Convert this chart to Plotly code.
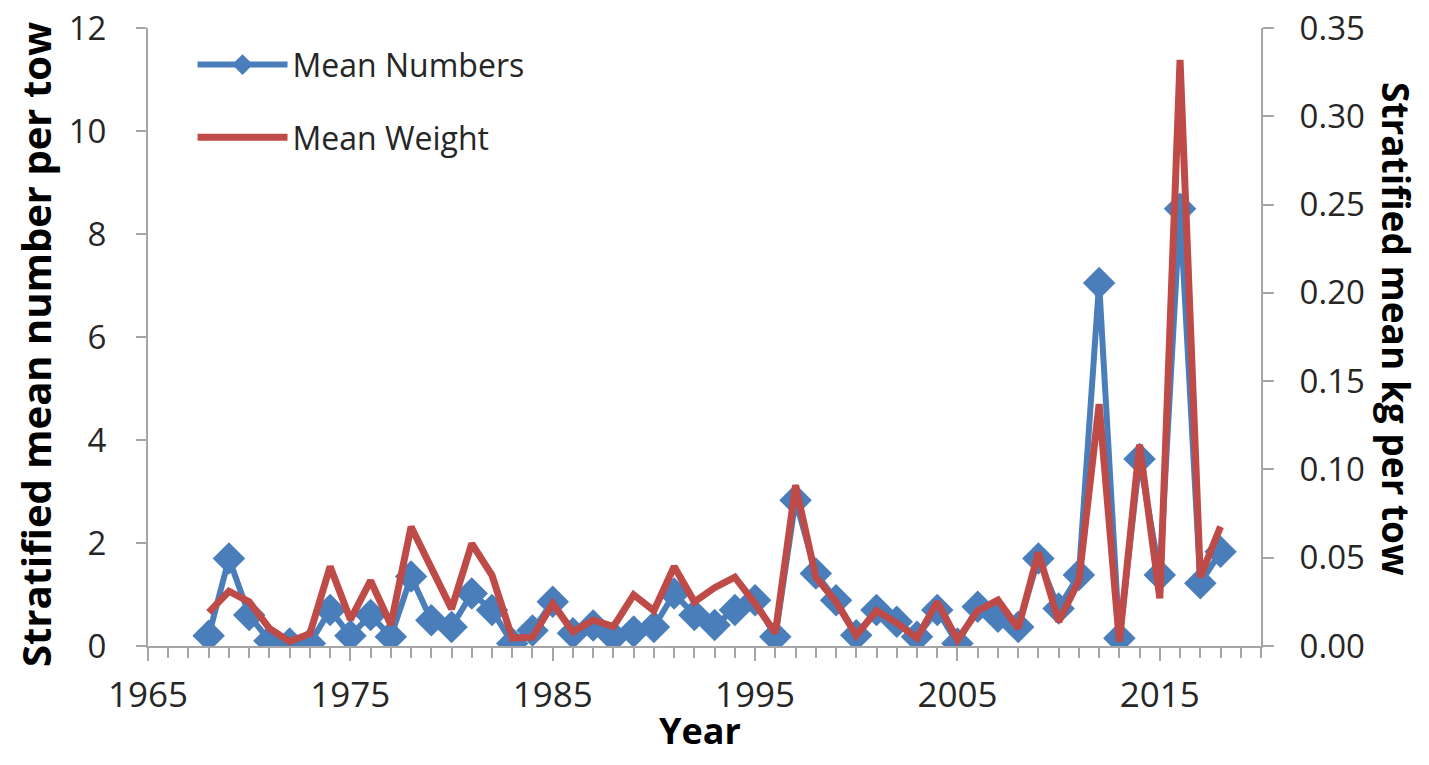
import plotly.graph_objects as go

years = list(range(1968, 2019))
mean_numbers = [0.2, 1.7, 0.6, 0.1, 0.05, 0.05, 0.7, 0.2, 0.6, 0.18,
                1.35, 0.5, 0.37, 1.02, 0.7, 0.05, 0.3, 0.86, 0.25, 0.4,
                0.18, 0.28, 0.37, 1.02, 0.6, 0.41, 0.7, 0.89, 0.18, 2.83,
                1.41, 0.89, 0.21, 0.7, 0.47, 0.18, 0.7, 0.05, 0.76, 0.57,
                0.37, 1.70, 0.73, 1.38, 7.05, 0.15, 3.63, 1.38, 8.49, 1.22,
                1.83]
mean_weight = [0.019, 0.031, 0.025, 0.010, 0.0025, 0.007, 0.045, 0.015, 0.037, 0.012,
               0.0675, 0.044, 0.021, 0.058, 0.040, 0.0045, 0.005, 0.024, 0.008, 0.0147,
               0.011, 0.029, 0.020, 0.045, 0.025, 0.033, 0.039, 0.024, 0.0074, 0.091,
               0.039, 0.025, 0.006, 0.020, 0.013, 0.0045, 0.025, 0.0034, 0.020, 0.026,
               0.010, 0.053, 0.0138, 0.037, 0.137, 0.0025, 0.114, 0.027, 0.332, 0.039,
               0.0676]

left_ticks = [0, 2, 4, 6, 8, 10, 12]
right_ticks = [0.00, 0.05, 0.10, 0.15, 0.20, 0.25, 0.30, 0.35]
x_ticks = [1965, 1975, 1985, 1995, 2005, 2015]

BLUE = "#4A7EBB"
RED = "#BE4B48"
AXIS = "#A6A6A6"
FONT = "Open Sans"
TXT = "#262626"

fig = go.Figure()
fig.add_trace(go.Scatter(
    x=years, y=mean_numbers, name="Mean Numbers", mode="lines+markers",
    line=dict(color=BLUE, width=6),
    marker=dict(symbol="diamond", size=25, color=BLUE),
    legendgroup="a", yaxis="y"))
fig.add_trace(go.Scatter(
    x=years, y=mean_weight, name="Mean Weight", mode="lines",
    line=dict(color=RED, width=7),
    legendgroup="b", yaxis="y2"))

# page body has an 8px margin; the figure is sized to fill the window exactly
fig.update_layout(
    width=1413, height=749,
    margin=dict(l=140, r=160, t=20, b=111, autoexpand=False),
    paper_bgcolor="white", plot_bgcolor="white",
    font=dict(family=FONT, color=TXT),
    showlegend=True,
    legend=dict(x=0.04, y=0.985, xanchor="left", yanchor="top",
                font=dict(size=32, family=FONT, color=TXT),
                tracegroupgap=28, bgcolor="rgba(0,0,0,0)", itemwidth=90),
    xaxis=dict(range=[1965, 2020], tickvals=x_ticks, ticktext=[str(v) for v in x_ticks],
               automargin=False, ticklabeloverflow="allow",
               showline=True, linecolor=AXIS, linewidth=2, showgrid=False, zeroline=False,
               ticks="outside", ticklen=13, tickcolor=AXIS, tickwidth=2,
               tickfont=dict(size=35, family=FONT, color=TXT),
               ticklabelstandoff=4,
               minor=dict(dtick=1, tick0=1965, ticks="outside", ticklen=10,
                          tickcolor=AXIS, tickwidth=2, showgrid=False)),
    yaxis=dict(range=[0, 12], tickvals=left_ticks, showline=True, linecolor=AXIS, linewidth=2,
               automargin=False, ticklabeloverflow="allow",
               showgrid=False, zeroline=False, ticks="outside", ticklen=10,
               tickcolor=AXIS, tickwidth=2,
               tickfont=dict(size=33, family=FONT, color=TXT),
               ticklabelstandoff=23),
    yaxis2=dict(range=[0, 0.35], tickvals=right_ticks,
                ticktext=["%.2f" % v for v in right_ticks],
                automargin=False, ticklabeloverflow="allow",
                overlaying="y", side="right", showline=True, linecolor=AXIS, linewidth=2,
                showgrid=False, zeroline=False, ticks="outside", ticklen=11,
                tickcolor=AXIS, tickwidth=2,
                tickfont=dict(size=33, family=FONT, color=TXT),
                ticklabelstandoff=19),
    annotations=[
        dict(text="<b>Stratified mean number per tow</b>", xref="paper", yref="paper",
             x=(35 - 148) / 1113, y=(646 - 345) / 618, xanchor="center", yanchor="middle",
             textangle=-90,
             showarrow=False, font=dict(size=40, family=FONT, color="#000000")),
        dict(text="<b>Stratified mean kg per tow</b>", xref="paper", yref="paper",
             x=(1397 - 148) / 1113, y=(646 - 329) / 618, xanchor="center", yanchor="middle",
             textangle=90,
             showarrow=False, font=dict(size=37, family=FONT, color="#000000")),
        dict(text="<b>Year</b>", xref="paper", yref="paper",
             x=(700 - 148) / 1113, y=(646 - 757) / 618, xanchor="center", yanchor="bottom",
             showarrow=False, font=dict(size=36, family=FONT, color="#000000")),
    ],
)

fig.write_html("out.html")
